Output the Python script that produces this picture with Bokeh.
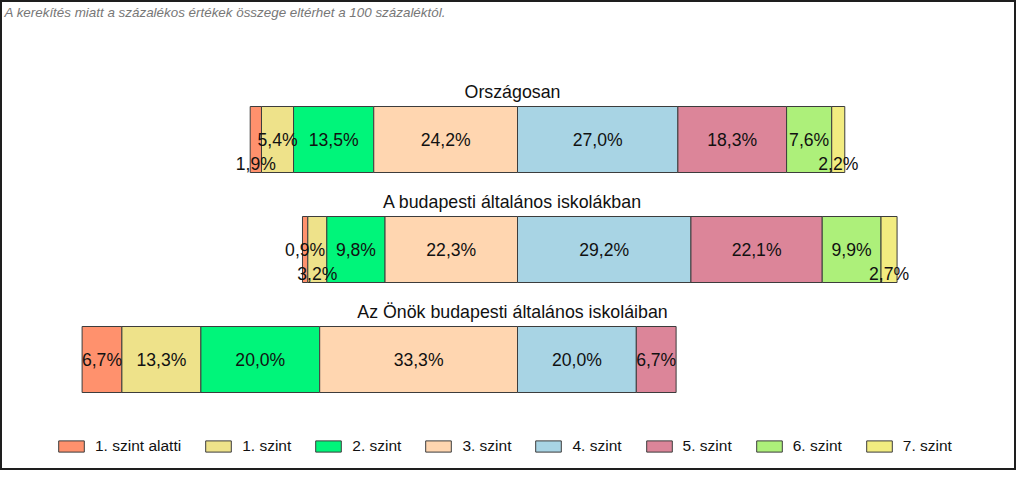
from bokeh.plotting import figure
from bokeh.models import ColumnDataSource, Range1d, Label, Legend
from bokeh.core.properties import value
from bokeh.embed import file_html
from bokeh.resources import INLINE

levels = ["1. szint alatti", "1. szint", "2. szint", "3. szint",
          "4. szint", "5. szint", "6. szint", "7. szint"]
colors = ["#FF916D", "#EEE28A", "#00F57A", "#FFD6B0",
          "#A8D4E4", "#DC8599", "#ADF07A", "#F2EC80"]
rows = ["Országosan", "A budapesti általános iskolákban",
        "Az Önök budapesti általános iskoláiban"]
orszagosan = [1.9, 5.4, 13.5, 24.2, 27.0, 18.3, 7.6, 2.2]
budapest = [0.9, 3.2, 9.8, 22.3, 29.2, 22.1, 9.9, 2.7]
onok = [6.7, 13.3, 20.0, 33.3, 20.0, 6.7, 0.0, 0.0]
series = [orszagosan, budapest, onok]
note = "A kerekítés miatt a  százalékos értékek összege eltérhet a 100 százaléktól."

# labels of narrow segments that are pushed below the middle (row, level)
lowered = {(0, 0), (0, 7), (1, 1), (1, 7)}

FONT = "Liberation Sans"
W, H = 1016, 470
PX = 5.94          # pixels per percent
ZERO = 517         # screen x of the 3|4 boundary
x_start = -ZERO / PX
x_end = (W - ZERO) / PX
title_x = (512 - ZERO) / PX

p = figure(width=W, height=H, output_backend="svg", toolbar_location=None,
           x_range=Range1d(x_start, x_end),
           y_range=Range1d(2 + 111 / 110, -139 / 110),
           min_border=0, min_border_left=0, min_border_right=0,
           min_border_top=0, min_border_bottom=0)
p.axis.visible = False
p.grid.visible = False
p.outline_line_color = "#1e1e1e"
p.outline_line_width = 3
p.background_fill_color = "white"

lab_x, lab_y, lab_t, lab_off = [], [], [], []
renderers = []
for j, lev in enumerate(levels):
    ys, lefts, rights = [], [], []
    for i, vals in enumerate(series):
        start = -sum(vals[:4])
        left = start + sum(vals[:j])
        v = vals[j]
        if v <= 0:
            continue
        ys.append(i)
        lefts.append(left)
        rights.append(left + v)
        lab_x.append(left + v / 2)
        lab_y.append(i)
        lab_t.append(f"{v:.1f}".replace(".", ",") + "%")
        lab_off.append(24 if (i, j) in lowered else 0)
    src = ColumnDataSource(dict(y=ys, left=lefts, right=rights))
    r = p.hbar(y="y", left="left", right="right", height=0.6, source=src,
               fill_color=colors[j], line_color="#3c3c3c", line_width=1)
    renderers.append((lev, [r]))

lsrc = ColumnDataSource(dict(x=lab_x, y=lab_y, t=lab_t, off=lab_off))
p.text(x="x", y="y", text="t", y_offset="off", source=lsrc,
       text_font=value(FONT), text_font_size="17.6px", text_color="#111111",
       text_align="center", text_baseline="middle")

tsrc = ColumnDataSource(dict(x=[title_x] * len(rows),
                             y=list(range(len(rows))), t=rows))
p.text(x="x", y="y", text="t", y_offset=-48, source=tsrc,
       text_font=value(FONT), text_font_size="17.8px", text_color="#111111",
       text_align="center", text_baseline="middle")

p.add_layout(Label(x=4, y=H - 4, x_units="screen", y_units="screen",
                   text=note, text_font=FONT, text_font_size="13.4px",
                   text_font_style="italic", text_color="#777777",
                   text_baseline="top", text_align="left"))

legend = Legend(items=renderers, orientation="horizontal",
                location=(55, 15), glyph_width=32, glyph_height=14,
                label_standoff=8, spacing=21, padding=0, margin=0,
                label_text_font=FONT, label_text_font_size="15.5px",
                label_text_color="#111111", border_line_color=None,
                background_fill_alpha=0)
p.add_layout(legend, "center")

open("out.html", "w").write(file_html(p, INLINE))
